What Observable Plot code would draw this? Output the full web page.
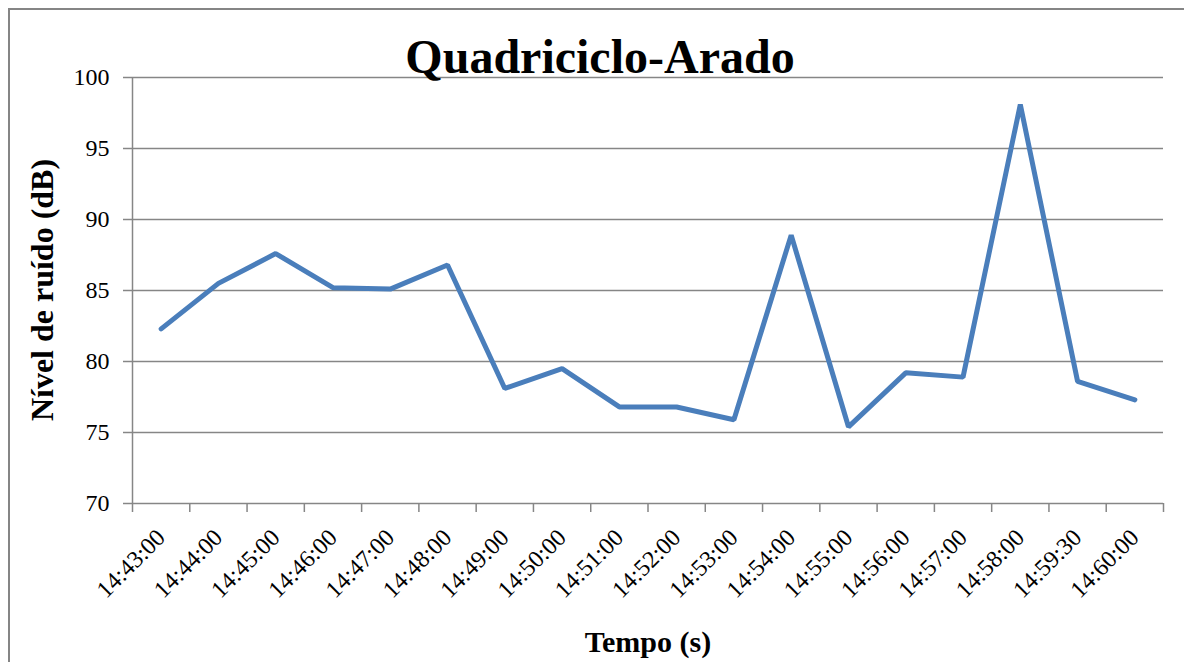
<!DOCTYPE html>
<html>
<head>
<meta charset="utf-8">
<script src="https://cdn.jsdelivr.net/npm/d3@7"></script>
<script src="https://cdn.jsdelivr.net/npm/@observablehq/plot@0.6"></script>
<style>
  html, body { margin: 0; padding: 0; background: #fff; }
  #wrap { position: relative; width: 1184px; height: 662px; overflow: hidden; font-family: "Liberation Serif", "Times New Roman", serif; }
  #frame { position: absolute; left: 8px; top: 8px; width: 1200px; height: 700px; border-left: 2.5px solid #858585; border-top: 2.5px solid #858585; box-sizing: border-box; }
  #chart { position: absolute; left: 0; top: 0; }
  .t { position: absolute; font-weight: bold; color: #000; white-space: nowrap; }
  #title { left: 600px; top: 56px; transform: translate(-50%, -50%); font-size: 48px; }
  #xlabel { left: 648px; top: 642px; transform: translate(-50%, -50%); font-size: 30px; }
  #ylabel { left: 42px; top: 290px; transform: translate(-50%, -50%) rotate(-90deg); font-size: 32px; }
</style>
</head>
<body>
<div id="wrap">
  <div id="frame"></div>
  <div id="chart"></div>
  <div class="t" id="title">Quadriciclo-Arado</div>
  <div class="t" id="xlabel">Tempo (s)</div>
  <div class="t" id="ylabel">Nível de ruído (dB)</div>
</div>
<script>
const categories = ["14:43:00","14:44:00","14:45:00","14:46:00","14:47:00","14:48:00","14:49:00","14:50:00","14:51:00","14:52:00","14:53:00","14:54:00","14:55:00","14:56:00","14:57:00","14:58:00","14:59:30","14:60:00"];
const values = [82.3, 85.5, 87.6, 85.2, 85.1, 86.8, 78.1, 79.5, 76.8, 76.8, 75.9, 88.9, 75.4, 79.2, 78.9, 98.1, 78.6, 77.3];
const yTicks = [70, 75, 80, 85, 90, 95, 100];

const data = categories.map((c, i) => ({i, c, v: values[i]}));
const idx = categories.map((c, i) => i);
const bounds = d3.range(categories.length + 1).map(i => i - 0.5);
const gray = "#868686";

const chart = Plot.plot({
  width: 1184,
  height: 662,
  marginLeft: 132,
  marginRight: 21,
  marginTop: 77,
  marginBottom: 159,
  style: {fontFamily: "'Liberation Serif', 'Times New Roman', serif", color: "#000", background: "transparent", overflow: "visible"},
  x: {type: "linear", domain: [-0.5, categories.length - 0.5], axis: null},
  y: {domain: [70, 100], axis: null},
  marks: [
    Plot.gridY(yTicks, {stroke: gray, strokeOpacity: 1, strokeWidth: 1.5}),
    Plot.ruleX([-0.5], {stroke: gray, strokeWidth: 1.5}),
    Plot.axisY(yTicks, {anchor: "left", label: null, tickSize: 9, tickPadding: 14, stroke: gray, strokeWidth: 1.5, fill: "#000", fontSize: 24}),
    Plot.axisX(bounds, {anchor: "bottom", label: null, tickSize: 9, tickFormat: () => "", stroke: gray, strokeWidth: 1.5}),
    Plot.axisX(idx, {anchor: "bottom", label: null, tickSize: 0, tickPadding: 30, tickRotate: -45, tickFormat: i => categories[i], fill: "#000", fontSize: 24}),
    Plot.line(data, {x: "i", y: "v", stroke: "#4a7ebb", strokeWidth: 5, strokeLinejoin: "miter", strokeLinecap: "round"})
  ]
});
document.getElementById("chart").appendChild(chart);
</script>
</body>
</html>
